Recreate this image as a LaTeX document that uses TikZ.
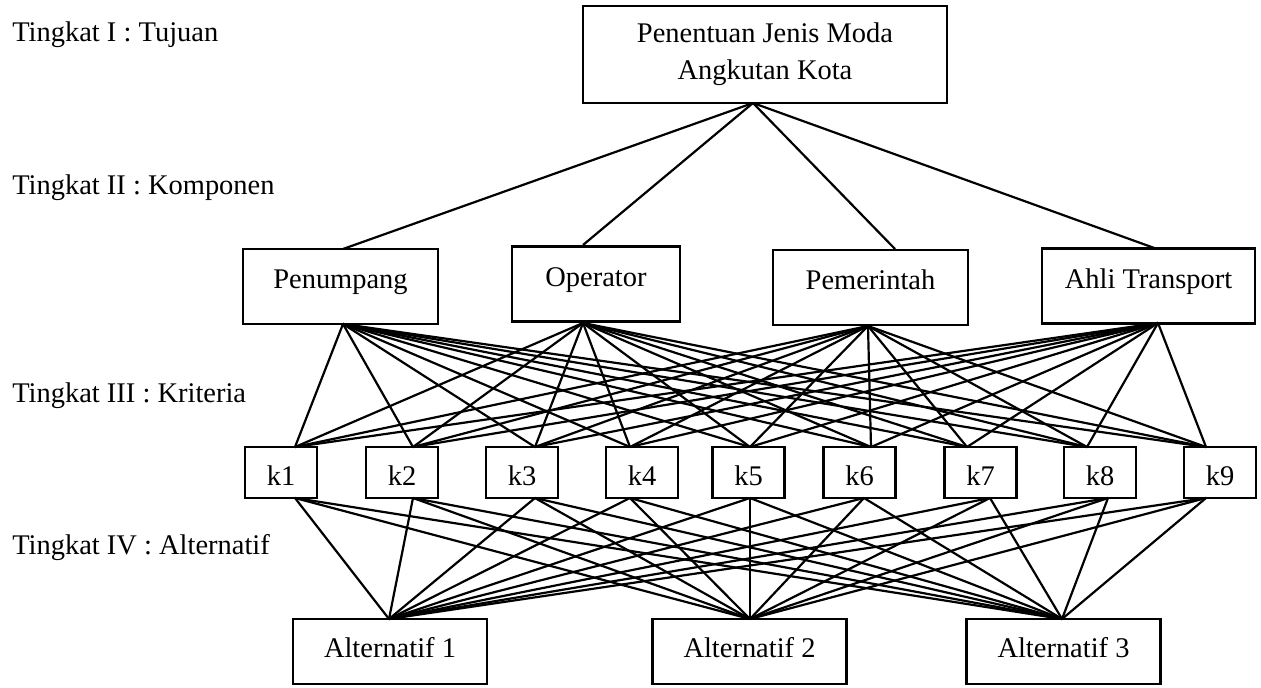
\documentclass[tikz,border=0pt]{standalone}
\usepackage{fontspec}
\setmainfont{Liberation Serif}
\begin{document}
\begin{tikzpicture}[x=0.02cm,y=-0.02cm,
    every node/.style={font=\fontsize{16.2}{21}\selectfont},
    tujuan/.style={draw,line width=1.4pt,inner sep=0pt,minimum width=7.28cm,minimum height=1.94cm,align=center},
    komp/.style={draw,line width=1.4pt,inner sep=0pt,text height=0.8cm,text depth=0.7cm},
    krit/.style={draw,line width=1.4pt,inner sep=0pt,minimum width=1.44cm,text height=0.78cm,text depth=0.24cm},
    alt/.style={draw,line width=1.4pt,inner sep=0pt,minimum width=3.88cm,text height=0.78cm,text depth=0.52cm},
    tingkat/.style={anchor=base west,inner sep=0pt},
    garis/.style={line width=1.25pt}]
      \useasboundingbox (0,0) rectangle (1261,688);
      % tingkat
      \node[tingkat] (t1) at (12,42) {Tingkat I : Tujuan};
      \node[tingkat] (t2) at (12,195) {Tingkat II : Komponen};
      \node[tingkat] (t3) at (12,403) {Tingkat III : Kriteria};
      \node[tingkat] (t4) at (12,555) {Tingkat IV : Alternatif};
      % tujuan
      \node[tujuan] (tuj) at (765,54.5) {Penentuan Jenis Moda\\Angkutan Kota};
      \coordinate (tuj-b) at (753,103);
      % komponen
      \foreach \n/\x/\y/\w/\xt/\xb/\yt/\yb/\t in {
          pen/340.5/286.5/3.9cm/343/343/249/324/Penumpang,
          op/596/284/3.36cm/583/583/245/323/Operator,
          pem/870.5/287.5/3.9cm/895/868/249/326/Pemerintah,
          ahli/1148.5/286/4.26cm/1157/1158/249/323/Ahli Transport}{
        \node[komp,minimum width=\w] (\n) at (\x,\y) {\t};
        \coordinate (\n-t) at (\xt,\yt);
        \coordinate (\n-b) at (\xb,\yb);
      }
      % kriteria
      \foreach \n/\x/\xt/\xb in {k1/281/295/295,k2/402/413/413,k3/522/535/535,
          k4/642/630/630,k5/748.5/750/750,k6/859.5/871/864,k7/980.5/967/990,
          k8/1100/1087/1108,k9/1220/1206/1206}{
        \node[krit] (\n) at (\x,472.5) {\n};
        \coordinate (\n-t) at (\xt,447);
        \coordinate (\n-b) at (\xb,498);
      }
      % alternatif
      \foreach \n/\x/\xt/\i in {a1/390/389/1,a2/749.5/750/2,a3/1063.5/1062/3}{
        \node[alt] (\n) at (\x,651.5) {Alternatif \i};
        \coordinate (\n-t) at (\xt,619);
      }
      % garis
      \foreach \n in {pen,op,pem,ahli}
        \draw[garis] (tuj-b) -- (\n-t);
      \foreach \n in {pen,op,pem,ahli}
        \foreach \k in {1,...,9}
          \draw[garis] (\n-b) -- (k\k-t);
      \foreach \k in {1,...,9}
        \foreach \a in {1,2,3}
          \draw[garis] (k\k-b) -- (a\a-t);
    \end{tikzpicture}
\end{document}
